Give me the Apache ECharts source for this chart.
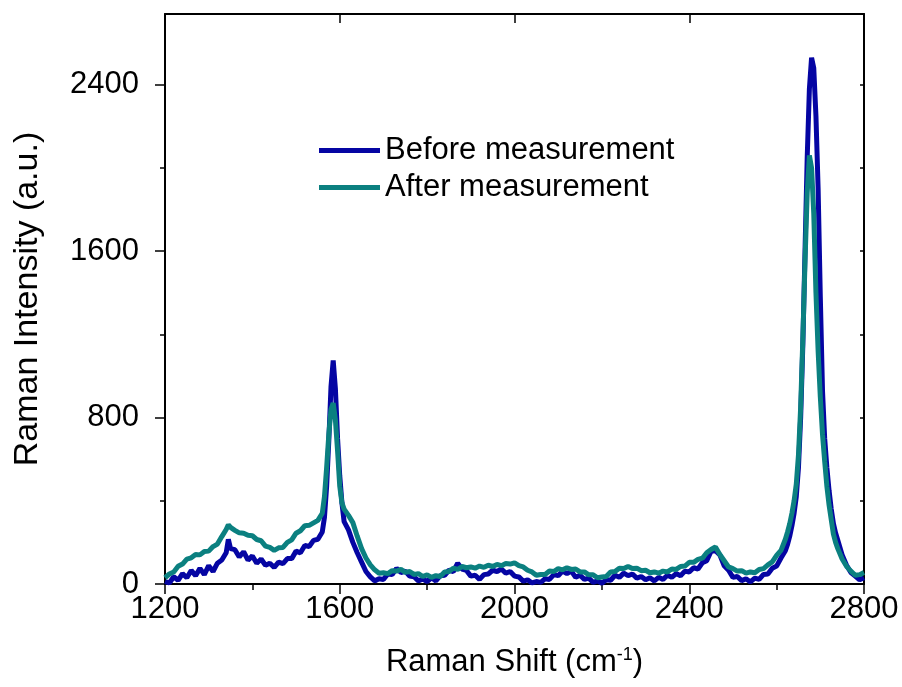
<!DOCTYPE html>
<html>
<head>
<meta charset="utf-8">
<script src="https://cdn.jsdelivr.net/npm/echarts@6/dist/echarts.min.js"></script>
<style>
  html, body { margin: 0; padding: 0; background: #fff; }
  #chart { width: 902px; height: 687px; }
</style>
</head>
<body>
<div id="chart"></div>
<script>
// Raman shift positions (cm-1), shared by both spectra
var shift = [
  1200, 1210, 1220, 1230, 1240, 1250, 1260, 1270, 1280, 1290, 1300, 1310, 1320, 1330, 1340, 1345,
  1350, 1360, 1370, 1380, 1390, 1400, 1410, 1420, 1430, 1440, 1450, 1460, 1470, 1480, 1490, 1500,
  1510, 1520, 1530, 1540, 1550, 1560,
  1565, 1570, 1575, 1580, 1585, 1590, 1595, 1600, 1605, 1610,
  1620, 1630, 1640, 1650, 1660, 1670, 1680, 1690, 1700, 1710, 1720, 1730, 1740, 1750, 1760, 1770,
  1780, 1790, 1800, 1810, 1820, 1830, 1840, 1850, 1860, 1870, 1880, 1890, 1900, 1910, 1920, 1930,
  1940, 1950, 1960, 1970, 1980, 1990, 2000, 2010, 2020, 2030, 2040, 2050, 2060, 2070, 2080, 2090,
  2100, 2110, 2120, 2130, 2140, 2150, 2160, 2170, 2180, 2190, 2200, 2210, 2220, 2230, 2240, 2250,
  2260, 2270, 2280, 2290, 2300, 2310, 2320, 2330, 2340, 2350, 2360, 2370, 2380, 2390, 2400, 2410,
  2420, 2430, 2440, 2450, 2460, 2470, 2480, 2490, 2500, 2510, 2520, 2530, 2540, 2550, 2560, 2570,
  2580, 2590, 2600, 2610, 2620,
  2625, 2630, 2635, 2640, 2645, 2650, 2655, 2660, 2665, 2670, 2675, 2680, 2685, 2690, 2695, 2700,
  2705, 2710, 2715, 2720, 2725, 2730, 2735, 2740,
  2750, 2760, 2770, 2780, 2790, 2800
];

// intensity before measurement
var before = [
  12, 5, 35, 18, 50, 30, 65, 40, 75, 45, 88, 60, 100, 115, 150, 215,
  170, 165, 130, 155, 115, 135, 100, 120, 90, 100, 80, 105, 98, 122, 122, 158,
  150, 185, 180, 210, 215, 250,
  320, 470, 690, 950, 1075, 940, 700, 520, 390, 300,
  260, 200, 150, 105, 60, 34, 15, 25, 22, 48, 45, 75, 55, 62, 38, 35,
  15, 24, 12, 30, 15, 40, 42, 66, 60, 100, 72, 65, 38, 42, 22, 45,
  48, 66, 60, 72, 52, 60, 38, 34, 14, 20, 5, 12, 8, 25, 22, 45,
  40, 62, 50, 62, 32, 42, 22, 28, 8, 15, 4, 20, 18, 42, 32, 52,
  40, 48, 28, 36, 20, 30, 15, 32, 22, 42, 32, 50, 40, 62, 58, 78,
  72, 102, 112, 158, 160, 140, 88, 66, 32, 36, 16, 25, 10, 28, 22, 46,
  48, 76, 86, 125, 160,
  190, 230, 280, 340, 420, 560, 800, 1150, 1600, 2050, 2380, 2530, 2480, 2250, 1900, 1380,
  930, 700, 560, 450, 360, 290, 245, 210,
  140, 90, 55, 38, 20, 30
];

// intensity after measurement
var after = [
  30, 48, 58, 85, 96, 120, 126, 142, 140, 156, 158, 180, 192, 228, 262, 285,
  272, 258, 246, 244, 234, 232, 214, 208, 182, 176, 162, 174, 176, 200, 212, 244,
  256, 280, 282, 294, 306, 340,
  420, 560, 720, 840, 870, 790, 640, 470, 390, 360,
  330, 295, 230, 170, 125, 92, 68, 52, 54, 50, 64, 62, 70, 56, 60, 46,
  50, 36, 44, 32, 40, 36, 58, 60, 76, 70, 84, 78, 82, 76, 86, 80,
  90, 84, 94, 88, 98, 96, 102, 88, 82, 66, 58, 42, 46, 46, 62, 60,
  74, 68, 78, 70, 72, 58, 58, 44, 44, 30, 34, 36, 58, 60, 76, 74,
  84, 74, 76, 64, 66, 54, 58, 52, 62, 58, 72, 70, 84, 86, 104, 104,
  118, 124, 150, 166, 178, 142, 112, 82, 74, 62, 64, 52, 58, 54, 70, 74,
  92, 106, 138, 162, 215,
  250, 290, 340, 400, 480, 620, 850, 1180, 1550, 1880, 2060, 2000, 1780, 1400, 1120, 900,
  720, 590, 470, 380, 310, 240, 200, 170,
  120, 85, 62, 42, 45, 55
];

var xTicks = [1200, 1600, 2000, 2400, 2800];
var xMinor = [1400, 1800, 2200, 2600];
var yTicks = [0, 800, 1600, 2400];
var yMinor = [400, 1200, 2000];
var allY = [0, 400, 800, 1200, 1600, 2000, 2400];

function pairs(ys) {
  var out = [];
  for (var i = 0; i < shift.length; i++) out.push([shift[i], ys[i]]);
  return out;
}

function plain(v) { return String(v); }

var font = 'Liberation Sans, Arial, sans-serif';
var black = '#000';
var blue = '#0505A3';
var teal = '#0B8080';

var myChart = echarts.init(document.getElementById('chart'));
var option = {
  animation: false,
  backgroundColor: '#fff',
  grid: { left: 165, right: 38, top: 14, bottom: 103 },
  legend: {
    orient: 'vertical',
    left: 314,
    top: 130,
    icon: 'rect',
    itemWidth: 61,
    itemHeight: 5,
    itemGap: 6,
    textStyle: { fontFamily: font, fontSize: 31, color: black, lineHeight: 31 },
    data: ['Before measurement', 'After measurement']
  },
  xAxis: [
    {
      type: 'value', position: 'bottom', min: 1200, max: 2800, interval: 400,
      axisLine: { show: true, onZero: false, lineStyle: { color: black, width: 2 } },
      axisTick: { show: true, inside: false, length: 10, customValues: xTicks, lineStyle: { color: black, width: 1.5 } },
      axisLabel: { fontFamily: font, fontSize: 31, color: black, margin: 10, customValues: xTicks, formatter: plain },
      splitLine: { show: false },
      name: 'Raman Shift (cm{sup|-1})',
      nameLocation: 'middle',
      nameGap: 62,
      nameTextStyle: {
        fontFamily: font, fontSize: 31, color: black,
        rich: { sup: { fontFamily: font, fontSize: 18, color: black, verticalAlign: 'top', padding: [0, 0, 14, 0] } }
      }
    },
    {
      type: 'value', position: 'bottom', min: 1200, max: 2800,
      axisLine: { show: false },
      axisTick: { show: true, inside: false, length: 6, customValues: xMinor, lineStyle: { color: black, width: 1.5 } },
      axisLabel: { show: false },
      splitLine: { show: false }
    },
    {
      type: 'value', position: 'top', min: 1200, max: 2800,
      axisLine: { show: true, onZero: false, lineStyle: { color: black, width: 2 } },
      axisTick: { show: true, inside: true, length: 9, customValues: xTicks, lineStyle: { color: black, width: 1.5 } },
      axisLabel: { show: false },
      splitLine: { show: false }
    },
    {
      type: 'value', position: 'top', min: 1200, max: 2800,
      axisLine: { show: false },
      axisTick: { show: true, inside: true, length: 5, customValues: xMinor, lineStyle: { color: black, width: 1.5 } },
      axisLabel: { show: false },
      splitLine: { show: false }
    }
  ],
  yAxis: [
    {
      type: 'value', position: 'left', min: 0, max: 2740,
      axisLine: { show: true, onZero: false, lineStyle: { color: black, width: 2 } },
      axisTick: { show: true, inside: false, length: 10, customValues: yTicks, lineStyle: { color: black, width: 1.5 } },
      axisLabel: { fontFamily: font, fontSize: 31, color: black, margin: 26, customValues: yTicks, formatter: plain },
      splitLine: { show: false },
      name: 'Raman Intensity (a.u.)',
      nameLocation: 'middle',
      nameGap: 120,
      nameTextStyle: { fontFamily: font, fontSize: 34, color: black }
    },
    {
      type: 'value', position: 'left', min: 0, max: 2740,
      axisLine: { show: false },
      axisTick: { show: true, inside: false, length: 5, customValues: yMinor, lineStyle: { color: black, width: 1.5 } },
      axisLabel: { show: false },
      splitLine: { show: false }
    },
    {
      type: 'value', position: 'right', min: 0, max: 2740,
      axisLine: { show: true, onZero: false, lineStyle: { color: black, width: 2 } },
      axisTick: { show: true, inside: true, length: 4, customValues: allY, lineStyle: { color: black, width: 1.5 } },
      axisLabel: { show: false },
      splitLine: { show: false }
    }
  ],
  series: [
    {
      name: 'Before measurement',
      type: 'line',
      data: pairs(before),
      showSymbol: false,
      symbol: 'none',
      lineStyle: { color: blue, width: 5 },
      itemStyle: { color: blue },
      z: 2
    },
    {
      name: 'After measurement',
      type: 'line',
      data: pairs(after),
      showSymbol: false,
      symbol: 'none',
      lineStyle: { color: teal, width: 5 },
      itemStyle: { color: teal },
      z: 3
    }
  ]
};
myChart.setOption(option);
</script>
</body>
</html>
